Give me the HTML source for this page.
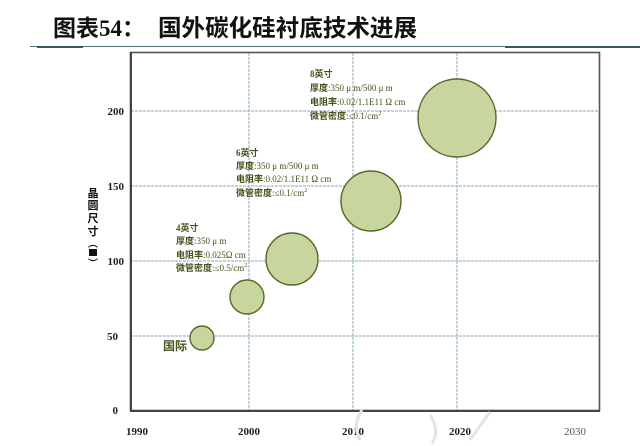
<!DOCTYPE html>
<html><head><meta charset="utf-8">
<style>
html,body{margin:0;padding:0;background:#fff;}
body{width:640px;height:446px;overflow:hidden;position:relative;}
svg{position:absolute;left:0;top:0;}
</style></head><body>
<svg width="640" height="446" viewBox="0 0 640 446" xmlns="http://www.w3.org/2000/svg">
<!-- title -->
<text x="53" y="36" font-size="23" font-weight="bold" fill="#111" font-family="Noto Sans CJK SC, sans-serif">图表<tspan font-family="Liberation Serif, serif" font-size="23">54</tspan>：</text>
<text x="158" y="36" font-size="23.5" font-weight="bold" fill="#111" font-family="Noto Sans CJK SC, sans-serif" textLength="259" lengthAdjust="spacingAndGlyphs">国外碳化硅衬底技术进展</text>
<line x1="30" y1="46.5" x2="640" y2="46.5" stroke="#4a6f74" stroke-width="1"/>
<line x1="37" y1="47" x2="83" y2="47" stroke="#2f5a60" stroke-width="2"/>
<line x1="505" y1="47" x2="640" y2="47" stroke="#2f5a60" stroke-width="2"/>

<!-- grid -->
<g stroke="#8fbccb" stroke-width="1.2" stroke-dasharray="3,1">
<line x1="131" y1="111" x2="599" y2="111"/>
<line x1="131" y1="186" x2="599" y2="186"/>
<line x1="131" y1="261" x2="599" y2="261"/>
<line x1="131" y1="336" x2="599" y2="336"/>
<line x1="249" y1="53" x2="249" y2="410"/>
<line x1="353" y1="53" x2="353" y2="410"/>
<line x1="457" y1="53" x2="457" y2="410"/>
</g>
<!-- frame -->
<rect x="130.5" y="52.5" width="469" height="358" fill="none" stroke="#555" stroke-width="1.6"/>
<line x1="131" y1="52" x2="131" y2="411" stroke="#444" stroke-width="2"/>
<line x1="130" y1="411" x2="600" y2="411" stroke="#444" stroke-width="2"/>

<!-- y ticks -->
<g font-family="Liberation Serif, serif" font-size="11" font-weight="bold" fill="#222" text-anchor="end">
<text x="124" y="115">200</text>
<text x="124" y="190">150</text>
<text x="124" y="265">100</text>
<text x="118" y="340">50</text>
<text x="118" y="414">0</text>
</g>
<!-- x ticks -->
<g font-family="Liberation Serif, serif" font-size="11" font-weight="bold" fill="#222" text-anchor="middle">
<text x="137" y="435">1990</text>
<text x="249" y="435">2000</text>
<text x="353" y="435">2010</text>
<text x="460" y="435">2020</text>
<text x="575" y="435" font-weight="normal" fill="#555">2030</text>
</g>
<!-- y axis label -->
<g font-family="Noto Sans CJK SC, sans-serif" font-size="11" font-weight="bold" fill="#111" text-anchor="middle">
<text x="93" y="197">晶</text>
<text x="93" y="209">圆</text>
<text x="93" y="222">尺</text>
<text x="93" y="235">寸</text>
<text x="93" y="247" font-size="10">︵</text>
<rect x="89" y="249" width="8" height="7" fill="#111"/>
<text x="93" y="267" font-size="10">︶</text>
</g>

<!-- bubbles -->
<g fill="#c6d69c" stroke="#56672a" stroke-width="1.4">
<circle cx="202" cy="338" r="12"/>
<circle cx="247" cy="297" r="17"/>
<circle cx="292" cy="259" r="26"/>
<circle cx="371" cy="201" r="30"/>
<circle cx="457" cy="118" r="39"/>
</g>

<!-- annotations -->
<g font-family="Liberation Serif, Noto Sans CJK SC, serif" font-size="9" fill="#44531a">
<text x="163" y="350" font-size="12" font-weight="bold" font-family="Noto Sans CJK SC, sans-serif">国际</text>

<text x="176" y="231"><tspan font-weight="bold">4英寸</tspan></text>
<text x="176" y="244"><tspan font-weight="bold" font-family="Noto Sans CJK SC, sans-serif">厚度</tspan>:350 μ m</text>
<text x="176" y="258"><tspan font-weight="bold" font-family="Noto Sans CJK SC, sans-serif">电阻率</tspan>:0.025Ω cm</text>
<text x="176" y="271"><tspan font-weight="bold" font-family="Noto Sans CJK SC, sans-serif">微管密度</tspan>:≤0.5/cm<tspan font-size="6" dy="-4">2</tspan></text>

<text x="236" y="156"><tspan font-weight="bold">6英寸</tspan></text>
<text x="236" y="169"><tspan font-weight="bold" font-family="Noto Sans CJK SC, sans-serif">厚度</tspan>:350 μ m/500 μ m</text>
<text x="236" y="182"><tspan font-weight="bold" font-family="Noto Sans CJK SC, sans-serif">电阻率</tspan>:0.02/1.1E11 Ω cm</text>
<text x="236" y="196"><tspan font-weight="bold" font-family="Noto Sans CJK SC, sans-serif">微管密度</tspan>:≤0.1/cm<tspan font-size="6" dy="-4">2</tspan></text>

<text x="310" y="77"><tspan font-weight="bold">8英寸</tspan></text>
<text x="310" y="91"><tspan font-weight="bold" font-family="Noto Sans CJK SC, sans-serif">厚度</tspan>:350 μ m/500 μ m</text>
<text x="310" y="105"><tspan font-weight="bold" font-family="Noto Sans CJK SC, sans-serif">电阻率</tspan>:0.02/1.1E11 Ω cm</text>
<text x="310" y="119"><tspan font-weight="bold" font-family="Noto Sans CJK SC, sans-serif">微管密度</tspan>:≤0.1/cm<tspan font-size="6" dy="-4">2</tspan></text>
</g>

<!-- faint watermark arcs -->
<g fill="none" stroke="#e4e4e4" stroke-width="3">
<path d="M362 410 Q352 425 360 440"/>
<path d="M430 415 Q440 430 432 444"/>
<path d="M490 412 L470 440"/>
</g>
</svg>
</body></html>
